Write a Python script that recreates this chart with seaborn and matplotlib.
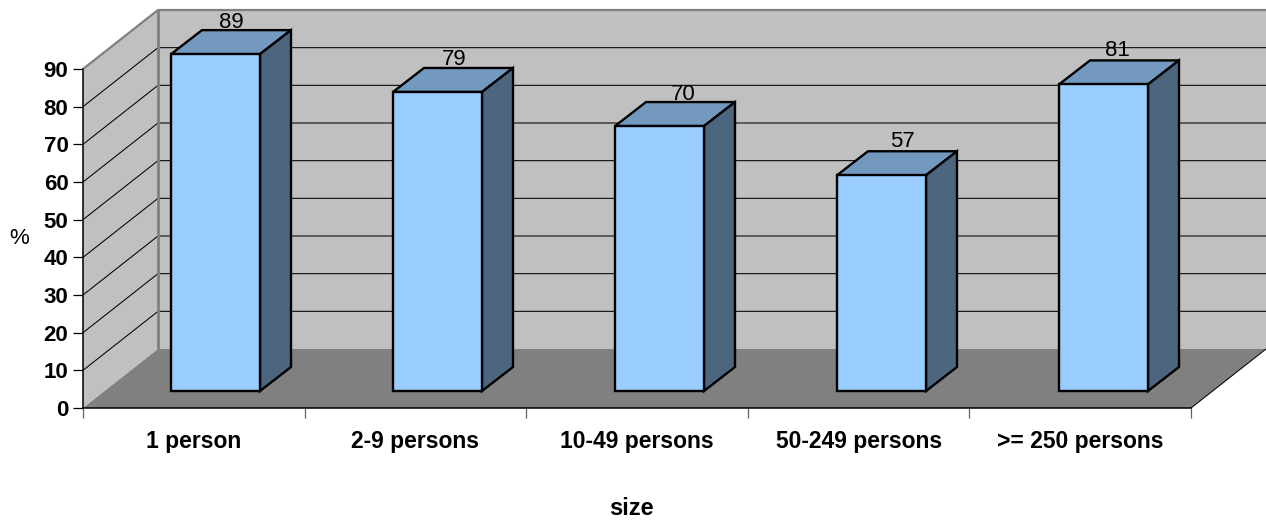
import matplotlib
matplotlib.use("Agg")
import matplotlib.pyplot as plt
from matplotlib.patches import Polygon
import pandas as pd
import seaborn as sns

categories = ["1 person", "2-9 persons", "10-49 persons", "50-249 persons", ">= 250 persons"]
shares = [89, 79, 70, 57, 81]
value_ticks = [0, 10, 20, 30, 40, 50, 60, 70, 80, 90]

W, H = 1266, 523
FRONT = "#99CCFF"
TOP = "#7399BF"
SIDE = "#4D6680"
WALL = "#C0C0C0"
FLOOR = "#808080"

sns.set_style("white")
plt.rcParams["font.family"] = ["Liberation Sans", "DejaVu Sans"]

fig = plt.figure(figsize=(W / 100, H / 100), dpi=100, facecolor="white")


def pixel_axes(x0, y_top, x1, y_bottom):
    return fig.add_axes([x0 / W, 1 - y_bottom / H, (x1 - x0) / W, (y_bottom - y_top) / H])


# Value axis with the box walls and floor behind the columns
ax = pixel_axes(83, 69, 1191, 408)
ax.set_xlim(-0.5, 4.5)
ax.set_ylim(0, 90)
ax.patch.set_alpha(0)
cat_px = 1108 / 5
val_px = 339 / 90
wall_dx = 75 / cat_px
wall_dy = 59 / val_px
xl, xr = -0.5, 4.5
top = value_ticks[-1]

ax.add_patch(Polygon([(xl, 0), (xl + wall_dx, wall_dy), (xl + wall_dx, top + wall_dy), (xl, top)],
                     fc=WALL, ec="none", clip_on=False, zorder=1))
ax.add_patch(Polygon([(xl + wall_dx, wall_dy), (xr + wall_dx, wall_dy),
                      (xr + wall_dx, top + wall_dy), (xl + wall_dx, top + wall_dy)],
                     fc=WALL, ec="none", clip_on=False, zorder=1))
ax.add_patch(Polygon([(xl, 0), (xr, 0), (xr + wall_dx, wall_dy), (xl + wall_dx, wall_dy)],
                     fc=FLOOR, ec="none", clip_on=False, zorder=2))

for v in value_ticks[1:-1]:
    ax.plot([xl, xl + wall_dx, xr + wall_dx], [v, v + wall_dy, v + wall_dy],
            color="black", lw=0.75, clip_on=False, zorder=1.5)

# Grey outer edges of the walls
ax.plot([xl, xl + wall_dx, xr + wall_dx], [top, top + wall_dy, top + wall_dy],
        color="#808080", lw=1.6, clip_on=False, zorder=1.6)
ax.plot([xl + wall_dx, xl + wall_dx], [wall_dy, top + wall_dy],
        color="#808080", lw=2.0, clip_on=False, zorder=1.6)
ax.plot([xr, xr + wall_dx], [0, wall_dy], color="black", lw=0.75, clip_on=False, zorder=2.5)

for side in ("top", "right"):
    ax.spines[side].set_visible(False)
for side in ("left", "bottom"):
    ax.spines[side].set_color("black")
    ax.spines[side].set_linewidth(1.1)
    ax.spines[side].set_zorder(3)

ax.set_yticks(value_ticks)
ax.set_yticklabels(value_ticks, fontsize=16, fontweight="bold", color="black")
ax.set_xticks(range(len(categories)))
ax.set_xticklabels(categories, fontsize=16.5, fontweight="bold", color="black")
ax.set_xticks([i - 0.5 for i in range(len(categories) + 1)], minor=True)
ax.tick_params(axis="y", left=True, length=7, width=0.9, color="black", pad=3.5)
ax.tick_params(axis="x", which="major", bottom=False, length=0, pad=16)
ax.tick_params(axis="x", which="minor", bottom=True, length=7, width=0.9, color="#606060")
ax.set_xlabel("")
ax.set_ylabel("")

fig.text(19 / W, 1 - 238.5 / H, "%", fontsize=16, ha="center", va="center", color="black")
fig.text(631 / W, 1 - 508.5 / H, "size", fontsize=17, fontweight="bold", ha="center", va="center", color="black")

# Columns stand on the floor, set back from the front edge
bar_val_px = 3.785
bar_ax = pixel_axes(104.5, 391 - 90 * bar_val_px, 104.5 + 1110, 391)
bar_ax.patch.set_alpha(0)
df = pd.DataFrame({"size": categories, "share": shares})
sns.barplot(data=df, x="size", y="share", ax=bar_ax, color=FRONT, saturation=1,
            width=89 / 222, edgecolor="black", linewidth=1.7, zorder=4)
bar_ax.set_xlim(-0.5, 4.5)
bar_ax.set_ylim(0, 90)
bar_ax.axis("off")

depth_dx = 31 / 222
depth_dy = 24 / bar_val_px
# Small hand placement of the value labels, in points
label_shift_x = [0, 0.5, 6, 4, -1]
label_shift_y = [0, 1, 0, 1.5, 1.5]
for bar, value, sx, sy in zip(bar_ax.patches, shares, label_shift_x, label_shift_y):
    x0, x1 = bar.get_x(), bar.get_x() + bar.get_width()
    bar.set_clip_on(False)
    bar_ax.add_patch(Polygon([(x0, value), (x1, value), (x1 + depth_dx, value + depth_dy), (x0 + depth_dx, value + depth_dy)],
                             fc=TOP, ec="black", lw=1.7, joinstyle="miter", clip_on=False, zorder=3))
    bar_ax.add_patch(Polygon([(x1, 0), (x1 + depth_dx, depth_dy), (x1 + depth_dx, value + depth_dy), (x1, value)],
                             fc=SIDE, ec="black", lw=1.7, joinstyle="miter", clip_on=False, zorder=3))
    bar_ax.annotate(str(value), xy=((x0 + x1) / 2 + depth_dx / 2, value + depth_dy + 0.5),
                    xytext=(sx, sy), textcoords="offset points",
                    fontsize=16, ha="center", va="baseline", color="black", zorder=6,
                    annotation_clip=False)

fig.savefig("out.png", dpi=100)
